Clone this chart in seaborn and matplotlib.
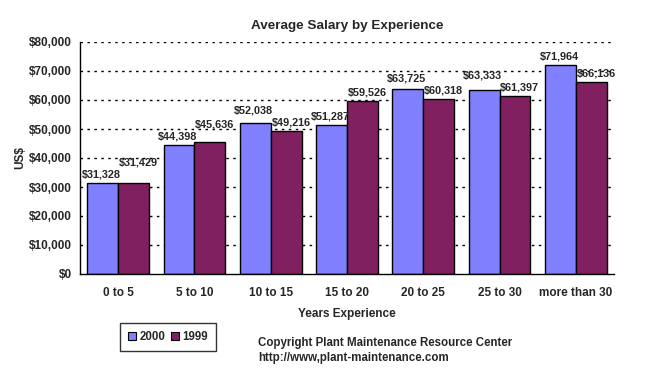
import matplotlib
matplotlib.use('Agg')
import matplotlib.pyplot as plt
import matplotlib.ticker as mticker
import seaborn as sns
import pandas as pd

categories = ['0 to 5', '5 to 10', '10 to 15', '15 to 20', '20 to 25', '25 to 30', 'more than 30']
salary_2000 = [31328, 44398, 52038, 51287, 63725, 63333, 71964]
salary_1999 = [31429, 45636, 49216, 59526, 60318, 61397, 66136]
years = ['2000', '1999']
colors = ['#8080FF', '#802060']

sns.set_style('white')
plt.rcParams['font.family'] = ['Liberation Sans', 'DejaVu Sans']
plt.rcParams['font.weight'] = 'bold'

df = pd.DataFrame({
    'experience': categories * 2,
    'year': [years[0]] * len(categories) + [years[1]] * len(categories),
    'salary': salary_2000 + salary_1999,
})

fig = plt.figure(figsize=(6.61, 3.9), dpi=100)
ax_h = 232
ax = fig.add_axes([80 / 661, 1 - 274 / 390, 534 / 661, ax_h / 390])

sns.barplot(data=df, x='experience', y='salary', hue='year', hue_order=years,
            palette=colors, width=0.81, gap=0, edgecolor='black', linewidth=1,
            saturation=1, legend=False, ax=ax)

ymax = 80000
ax.set_ylim(0, ymax)
ax.set_xlim(-0.5, len(categories) - 0.5)
ax.yaxis.set_major_locator(mticker.MultipleLocator(10000))
ax.yaxis.set_major_formatter(mticker.FuncFormatter(lambda v, p: '${:,.0f}'.format(v)))
for y in range(10000, ymax + 1, 10000):
    ax.axhline(y, color='black', lw=1, ls=(0, (1.8, 3.2)), zorder=0)

for s in ['top', 'right']:
    ax.spines[s].set_visible(False)
for s in ['left', 'bottom']:
    ax.spines[s].set_color('black')
    ax.spines[s].set_linewidth(1)

# ticks between the groups, category names in the middle
ax.set_xticks([i + 0.5 for i in range(-1, len(categories))], minor=False)
ax.set_xticklabels([])
ax.set_xticks(range(len(categories)), minor=True)
ax.set_xticklabels(categories, minor=True, fontsize=8.5, fontweight='bold')
ax.tick_params(axis='x', which='major', direction='out', length=4, width=1, color='black')
ax.tick_params(axis='x', which='minor', length=0, pad=9)
ax.tick_params(axis='y', direction='out', length=4, width=1, color='black', labelsize=8.5, pad=2)
for t in ax.get_yticklabels():
    t.set_fontweight('bold')

ax.set_xlabel('Years Experience', fontsize=8.5, fontweight='bold', labelpad=7)
ax.set_ylabel('US$', fontsize=8.5, fontweight='bold', labelpad=2)
ax.set_title('Average Salary by Experience', fontsize=9.7, fontweight='bold', pad=9)

# value labels; if a pair would collide, lift the taller one
bar_w = 0.81 / 2
px_per_unit = ax_h / ymax
for i in range(len(categories)):
    a, b = salary_2000[i], salary_1999[i]
    gap_px = abs(a - b) * px_per_unit
    lift_px = max(0, 12 - gap_px)
    for j, v in enumerate([a, b]):
        other = b if j == 0 else a
        extra = lift_px * 0.72 if v >= other else 0
        xpos = i + (j - 0.5) * bar_w
        ax.annotate('${:,.0f}'.format(v), (xpos, v), xytext=(-1 + 4.5 * j, 2.5 + extra),
                    textcoords='offset points', ha='center', va='bottom',
                    fontsize=7.8, fontweight='bold')

handles = [plt.Rectangle((0, 0), 1, 1, facecolor=c, edgecolor='black', lw=0.8) for c in colors]
leg = fig.legend(handles, years, loc='center', bbox_to_anchor=(168 / 661, 1 - 337 / 390),
                 ncol=2, frameon=True, fancybox=False, edgecolor='black', fontsize=8.3,
                 handlelength=0.7, handleheight=0.7, handletextpad=0.25, columnspacing=0.5,
                 borderpad=0.7, borderaxespad=0)
leg.get_frame().set_linewidth(1)
for t in leg.get_texts():
    t.set_fontweight('bold')

fig.text(258 / 661, 1 - 343 / 390, 'Copyright Plant Maintenance Resource Center',
         fontsize=8.3, fontweight='bold', va='center')
fig.text(258 / 661, 1 - 358 / 390, 'http://www,plant-maintenance.com',
         fontsize=8.3, fontweight='bold', va='center')

fig.savefig('out.png', dpi=100, facecolor='white')
